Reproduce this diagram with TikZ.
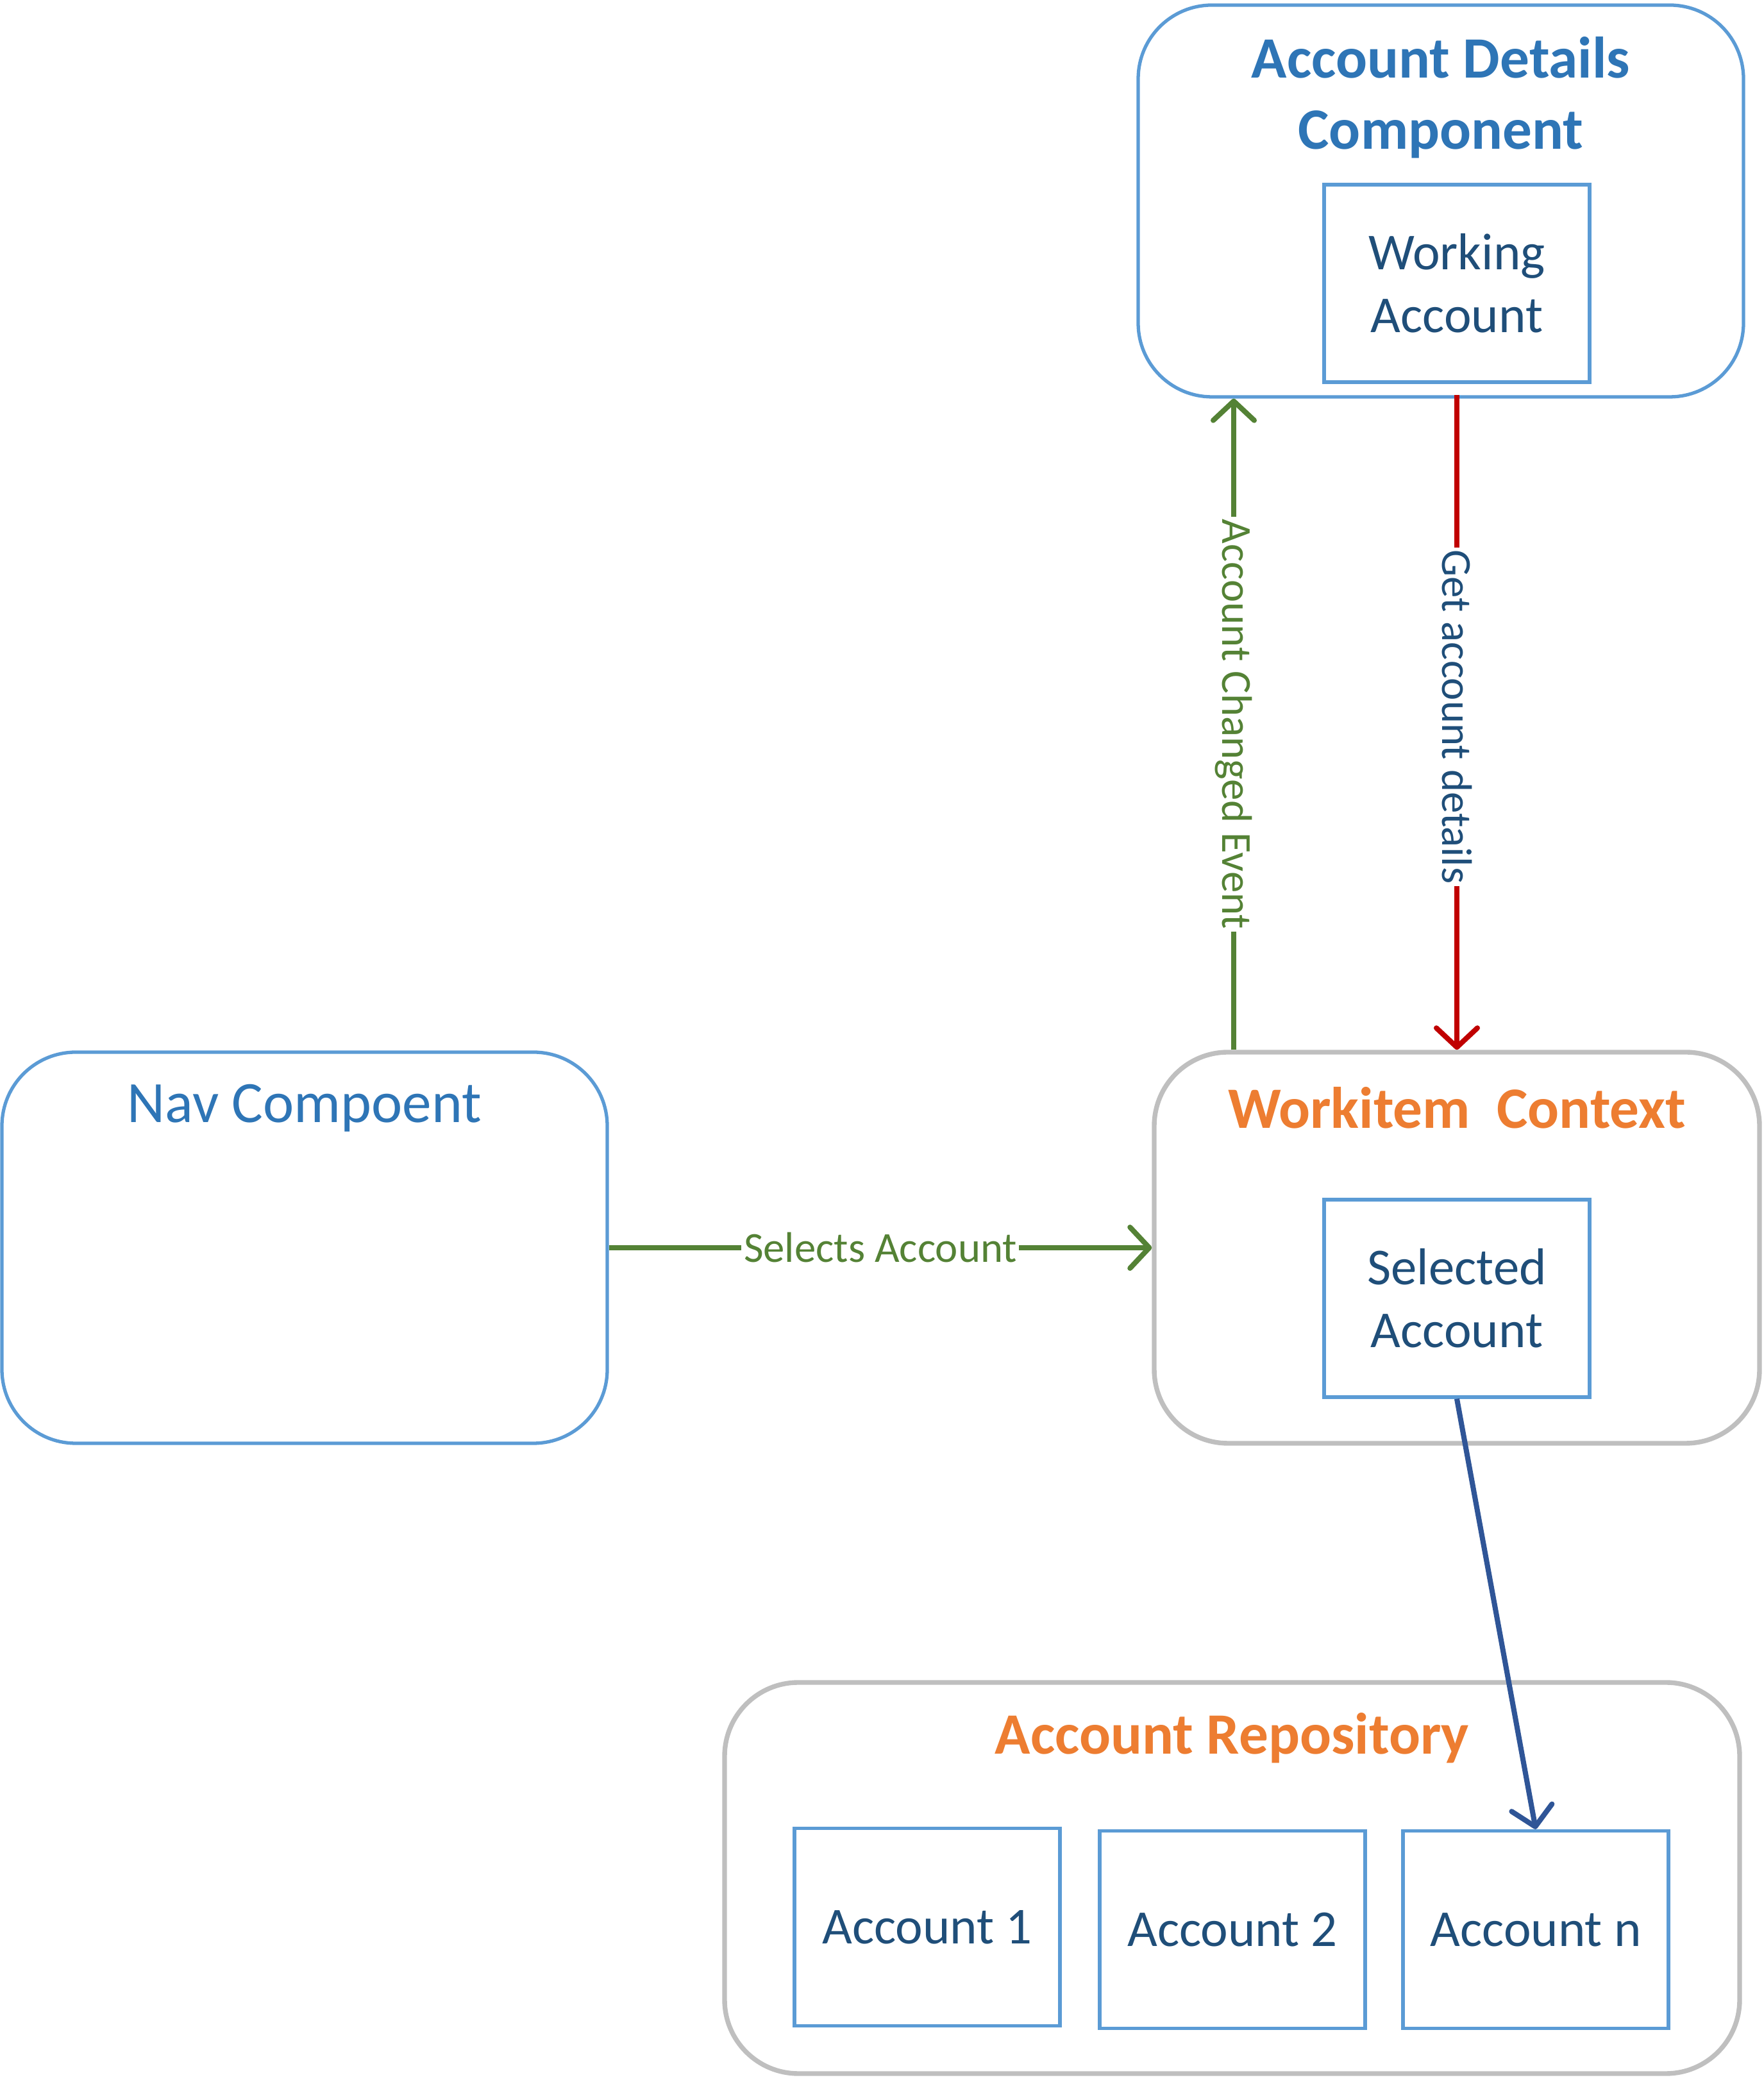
\documentclass[tikz,border=0pt]{standalone}
\usepackage{fontspec}
\setmainfont{Carlito}
\usetikzlibrary{arrows.meta}

\definecolor{boxblue}{HTML}{5B9BD5}
\definecolor{boxgray}{HTML}{BFBFBF}
\definecolor{headblue}{HTML}{2E75B6}
\definecolor{headorange}{HTML}{ED7D31}
\definecolor{textblue}{HTML}{1F4E79}
\definecolor{eventgreen}{HTML}{548235}
\definecolor{getred}{HTML}{C00000}
\definecolor{linkblue}{HTML}{2F5597}

\begin{document}
\begin{tikzpicture}[>={Straight Barb[length=0.3cm, width=0.64cm, round]}, line width=1.5pt,
    bigbox/.style={draw, rounded corners=1.15cm, minimum width=9.44cm, minimum height=6.1cm},
    graybox/.style={bigbox, draw=boxgray, line width=2.1pt},
    itembox/.style={draw=boxblue, minimum width=4.14cm, minimum height=3.08cm, align=center, text=textblue, font=\fontsize{23}{28}\selectfont},
    heading/.style={font=\bfseries\fontsize{26}{31.5}\selectfont, align=center},
    link/.style={->, line width=2.3pt},
    lbl/.style={fill=white, inner sep=1pt, font=\fontsize{19}{23}\selectfont}]

    \useasboundingbox (0,0) rectangle (27.5,32.44);

    % Account details component
    \node[bigbox, draw=boxblue, minimum height=6.11cm] at (22.47, 29.305) (adc) {};
    \node[heading, text=headblue] at (22.47, 30.92) (adcTitle) {Account Details\\Component};
    \node[itembox] at (22.72, 28.02) (working) {Working\\Account};

    % Nav component
    \node[bigbox, draw=boxblue] at (4.75, 12.98) (nav) {};
    \node[font=\fontsize{26}{31.5}\selectfont, text=headblue] at (4.75, 15.16) (navTitle) {Nav Compoent};

    % Workitem context
    \node[graybox] at (22.72, 12.98) (ctx) {};
    \node[heading, text=headorange] at (22.72, 15.16) (ctxTitle) {Workitem\ \ Context};
    \node[itembox] at (22.72, 12.19) (selected) {Selected\\Account};

    % Account repository
    \node[graybox, minimum width=15.83cm] at (19.215, 3.15) (repo) {};
    \node[heading, text=headorange] at (19.215, 5.33) (repoTitle) {Account Repository};
    \node[itembox] at (14.46, 2.385) (acc1) {Account 1};
    \node[itembox] at (19.22, 2.345) (acc2) {Account 2};
    \node[itembox] at (23.95, 2.345) (accn) {Account n};

    % Connections
    \draw[link, eventgreen] (nav.east) -- (ctx.west)
        node[midway, lbl, text=eventgreen] {Selects Account};
    \draw[link, eventgreen] ([xshift=-3.48cm]ctx.north) -- ([xshift=-3.23cm]adc.south)
        node[midway, lbl, text=eventgreen, rotate=-90] {Account Changed Event};
    \draw[link, getred, shorten <=0.17cm] (working.south) -- (ctx.north)
        node[midway, lbl, text=textblue, rotate=-90] {Get account details};
    \draw[link, linkblue] (selected.south) -- (accn.north);
\end{tikzpicture}
\end{document}
